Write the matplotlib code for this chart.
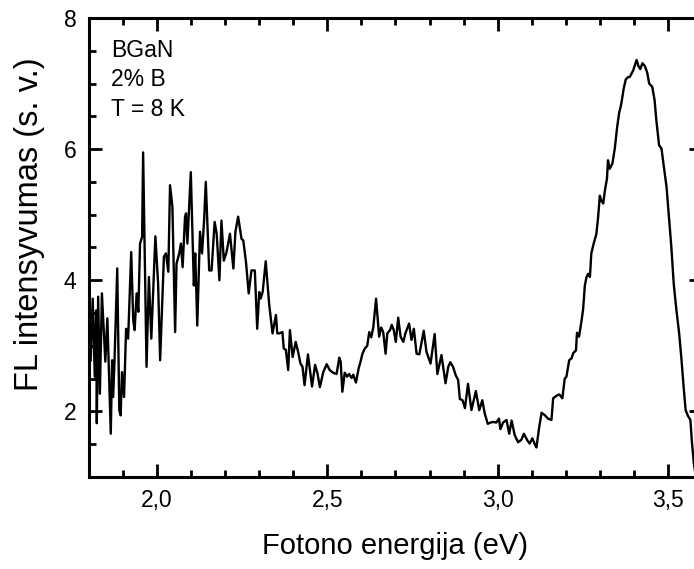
import matplotlib
matplotlib.use("Agg")
import matplotlib.pyplot as plt
from matplotlib.ticker import MultipleLocator, FuncFormatter

plt.rcParams['font.family'] = ['Liberation Sans', 'DejaVu Sans']

# photoluminescence spectrum
energy = [1.805, 1.811, 1.817, 1.821, 1.823, 1.827, 1.832, 1.838, 1.848, 1.854,
          1.864, 1.868, 1.871, 1.875, 1.883, 1.889, 1.893, 1.897, 1.903, 1.909,
          1.915, 1.924, 1.930, 1.934, 1.940, 1.945, 1.950, 1.956, 1.959, 1.969,
          1.976, 1.983, 1.995, 2.003, 2.009, 2.020, 2.026, 2.033, 2.038, 2.045,
          2.053, 2.057, 2.065, 2.070, 2.075, 2.082, 2.085, 2.089, 2.099, 2.108,
          2.112, 2.118, 2.126, 2.132, 2.138, 2.143, 2.153, 2.160, 2.169, 2.175,
          2.183, 2.189, 2.196, 2.204, 2.214, 2.224, 2.230, 2.238, 2.248, 2.253,
          2.261, 2.269, 2.277, 2.287, 2.294, 2.300, 2.304, 2.310, 2.319, 2.329,
          2.339, 2.349, 2.353, 2.359,
          2.368, 2.372, 2.378, 2.385, 2.390, 2.398, 2.407, 2.414, 2.421, 2.427,
          2.433, 2.443, 2.455, 2.464, 2.471, 2.478, 2.488, 2.498, 2.507, 2.517,
          2.527, 2.535, 2.539, 2.544, 2.551, 2.558, 2.564, 2.571, 2.576, 2.584,
          2.592, 2.597, 2.603, 2.610, 2.617, 2.623, 2.629, 2.635, 2.643, 2.652,
          2.658, 2.664, 2.671, 2.676, 2.684, 2.689, 2.695, 2.701, 2.708, 2.715,
          2.723, 2.729, 2.740, 2.747, 2.754, 2.762, 2.770, 2.776, 2.783, 2.791,
          2.803, 2.815, 2.823, 2.835, 2.847, 2.855, 2.861, 2.869, 2.877, 2.884,
          2.889, 2.897, 2.904, 2.913, 2.923, 2.936, 2.946, 2.955, 2.962, 2.971,
          2.979, 2.987, 2.996, 3.004, 3.008, 3.016, 3.026, 3.034, 3.041, 3.050,
          3.060, 3.070, 3.077,
          3.087, 3.094, 3.102, 3.109, 3.114, 3.122, 3.129, 3.139, 3.148, 3.158,
          3.163, 3.173, 3.181, 3.190, 3.197, 3.202, 3.210, 3.217, 3.222, 3.230,
          3.233, 3.239, 3.246, 3.251, 3.256, 3.261, 3.266, 3.271, 3.275, 3.282,
          3.290, 3.295, 3.300, 3.305, 3.310, 3.315, 3.321, 3.324, 3.329, 3.337,
          3.344, 3.351, 3.357, 3.361, 3.364, 3.370, 3.376, 3.383, 3.388, 3.393,
          3.398, 3.403, 3.408, 3.413, 3.419, 3.425, 3.432, 3.439, 3.445, 3.454,
          3.461, 3.466, 3.474, 3.481, 3.488, 3.496, 3.503, 3.510, 3.517, 3.525,
          3.533, 3.540, 3.546, 3.552, 3.559, 3.566, 3.570, 3.576, 3.585]
intensity = [2.78, 3.72, 2.53, 3.54, 1.82, 3.75, 2.27, 3.80, 2.76, 3.42,
             1.66, 2.78, 2.22, 2.78, 4.18, 2.02, 1.94, 2.60, 2.22, 3.26,
             3.11, 4.43, 3.39, 3.24, 3.80, 3.52, 4.56, 4.66, 5.95, 2.68,
             4.05, 3.11, 4.67, 3.95, 2.78, 4.36, 4.41, 4.13, 5.45, 5.12,
             3.21, 4.25, 4.41, 4.56, 4.20, 4.96, 5.02, 4.56, 5.65, 3.92,
             4.41, 3.31, 4.74, 4.41, 4.91, 5.50, 4.15, 4.15, 4.89, 4.71,
             4.00, 4.91, 4.30, 4.43, 4.71, 4.18, 4.74, 4.97, 4.63, 4.61,
             4.28, 3.80, 4.15, 4.15, 3.26, 3.82, 3.72, 3.82, 4.29, 3.64,
             3.19, 3.47, 3.19, 3.19,
             3.21, 2.96, 2.94, 2.63, 3.24, 2.83, 3.06, 2.91, 2.73, 2.68,
             2.40, 2.87, 2.38, 2.71, 2.58, 2.37, 2.60, 2.72, 2.63, 2.59,
             2.57, 2.82, 2.76, 2.30, 2.59, 2.53, 2.57, 2.51, 2.56, 2.44,
             2.66, 2.75, 2.88, 2.96, 3.00, 3.21, 3.13, 3.29, 3.72, 3.14,
             3.28, 3.21, 2.88, 3.19, 3.24, 3.32, 3.24, 3.06, 3.43, 3.14,
             3.06, 3.19, 3.34, 3.09, 3.26, 2.88, 2.87, 3.04, 3.23, 2.91,
             2.73, 3.18, 2.57, 2.86, 2.43, 2.68, 2.75, 2.68, 2.55, 2.48,
             2.19, 2.17, 2.05, 2.42, 2.02, 2.31, 2.02, 2.17, 1.97, 1.81,
             1.83, 1.84, 1.83, 1.89, 1.73, 1.83, 1.87, 1.66, 1.86, 1.64,
             1.53, 1.57, 1.66,
             1.56, 1.51, 1.59, 1.50, 1.45, 1.76, 1.98, 1.94, 1.89, 1.87,
             2.20, 2.24, 2.26, 2.20, 2.50, 2.53, 2.78, 2.81, 2.89, 2.93,
             3.20, 3.14, 3.37, 3.56, 3.92, 4.05, 4.10, 4.05, 4.41, 4.56,
             4.71, 4.96, 5.29, 5.21, 5.17, 5.37, 5.55, 5.83, 5.70, 5.78,
             6.01, 6.34, 6.56, 6.64, 6.72, 6.92, 7.06, 7.10, 7.10, 7.15,
             7.20, 7.28, 7.36, 7.27, 7.22, 7.31, 7.27, 7.17, 7.00, 6.95,
             6.74, 6.44, 6.06, 6.01, 5.73, 5.42, 4.96, 4.51, 3.95, 3.54,
             3.19, 2.78, 2.38, 2.02, 1.93, 1.87, 1.56, 1.21, 0.90]

fig = plt.figure(figsize=(6.94, 5.69), dpi=100)
ax = fig.add_axes([0.1282, 0.1617, 0.8833, 0.8067])

ax.plot(energy, intensity, color='black', lw=1.7)

ax.set_xlim(1.8, 3.6)
ax.set_ylim(1, 8)
ax.xaxis.set_major_locator(MultipleLocator(0.5))
ax.xaxis.set_minor_locator(MultipleLocator(0.1))
ax.yaxis.set_major_locator(MultipleLocator(2))
ax.yaxis.set_minor_locator(MultipleLocator(0.5))
ax.xaxis.set_major_formatter(FuncFormatter(lambda v, p: ('%.1f' % v).replace('.', ',')))
ax.yaxis.set_major_formatter(FuncFormatter(lambda v, p: '%d' % v))

ax.tick_params(which='both', direction='in', top=True, right=True, width=2, labelsize=16.5, pad=9)
ax.tick_params(which='major', length=9.5)
ax.tick_params(which='minor', length=5)
for s in ax.spines.values():
    s.set_linewidth(2.2)

ax.set_xlabel('Fotono energija (eV)', fontsize=21, labelpad=14)
ax.set_ylabel('FL intensyvumas (s. v.)', fontsize=23.5)
ax.yaxis.set_label_coords(-0.072, 0.55)

ax.text(0.036, 0.915, 'BGaN', transform=ax.transAxes, fontsize=16.5, va='baseline')
ax.text(0.036, 0.852, '2% B', transform=ax.transAxes, fontsize=16.5, va='baseline')
ax.text(0.036, 0.786, 'T = 8 K', transform=ax.transAxes, fontsize=16.5, va='baseline')

plt.savefig('out.png', dpi=100)
